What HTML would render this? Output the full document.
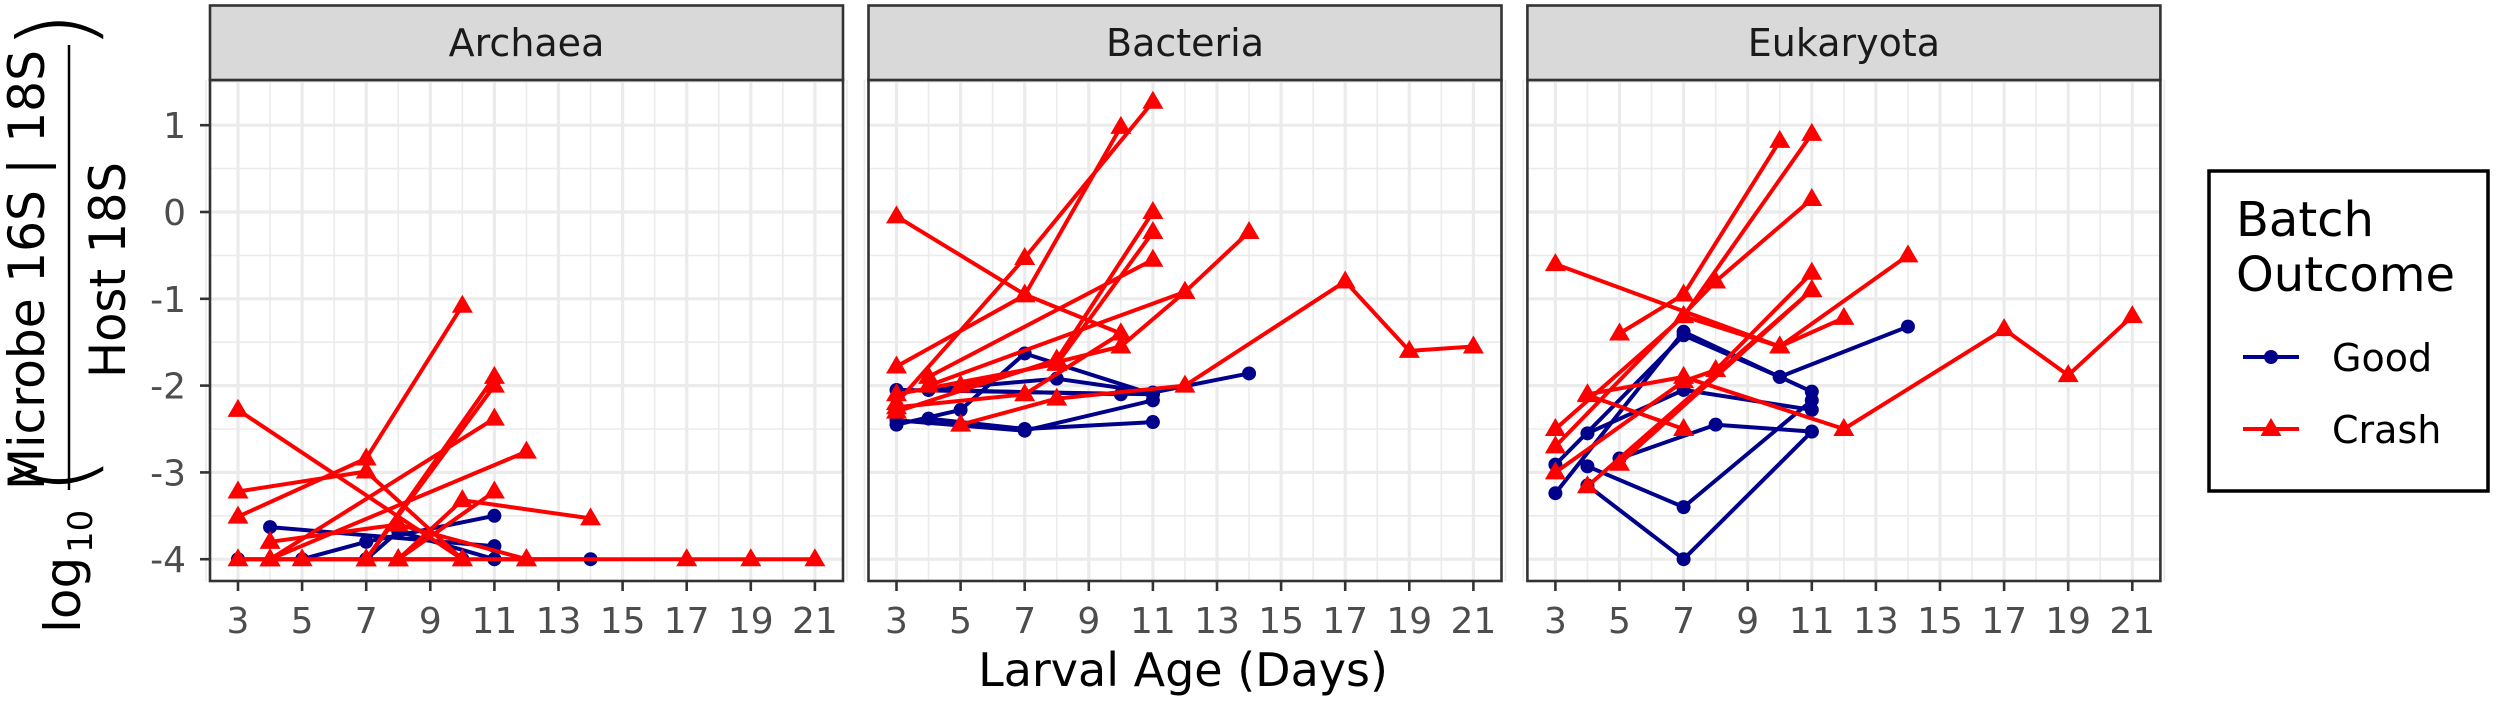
<!DOCTYPE html>
<html><head><meta charset="utf-8"><style>
html,body{margin:0;padding:0;background:#fff;}
svg{display:block;font-family:"DejaVu Sans","Liberation Sans",sans-serif;}
</style></head><body>
<svg id="chart" width="2500" height="705" viewBox="0 0 2500 705" xmlns="http://www.w3.org/2000/svg">
<g id="root"></g>
</svg>
<script>
const panelNames = ["Archaea", "Bacteria", "Eukaryota"];
const xTicks = [3,5,7,9,11,13,15,17,19,21];
const yTicks = [1,0,-1,-2,-3,-4];
const archaeaGood = [
 {d:[4,11], v:[-3.63,-3.85]},
 {d:[5,7,11], v:[-4,-3.8,-3.5]},
 {d:[3,7,8,11], v:[-4,-4,-3.68,-4]},
 {d:[7,10], v:[-4,-4]},
 {d:[11,14], v:[-4,-4]}
];
const archaeaCrash = [
 {d:[3,10], v:[-2.28,-4]},
 {d:[3,7,10], v:[-3.22,-2.99,-4]},
 {d:[3,7,10], v:[-3.51,-2.84,-1.08]},
 {d:[4,8,12], v:[-3.8,-3.6,-4]},
 {d:[4,11], v:[-4,-2.38]},
 {d:[7,11], v:[-4,-1.9]},
 {d:[7,11], v:[-4,-2.0]},
 {d:[8,10,14], v:[-4,-3.32,-3.53]},
 {d:[8,11], v:[-4,-3.22]},
 {d:[4,12], v:[-4,-2.76]},
 {d:[3,4,5,7,8,12,17,19,21], v:[-4,-4,-4,-4,-4,-4,-4,-4,-4]}
];
const bacteriaGood = [
 {d:[3,11], v:[-2.05,-2.1]},
 {d:[3,5,7,11], v:[-2.45,-2.28,-1.63,-2.1]},
 {d:[4,7,11], v:[-2.38,-2.5,-2.42]},
 {d:[3,7,11], v:[-2.4,-2.52,-2.17]},
 {d:[4,8,11,14], v:[-2.05,-1.92,-2.08,-1.86]},
 {d:[4,10], v:[-2.05,-2.1]}
];
const bacteriaCrash = [
 {d:[3,7,10], v:[-0.05,-0.95,-1.4]},
 {d:[3,7,10], v:[-1.78,-0.96,0.98]},
 {d:[3,7,11], v:[-2.2,-0.53,1.27]},
 {d:[3,8,11], v:[-2.3,-1.7,0.0]},
 {d:[3,8,11], v:[-2.1,-1.75,-0.23]},
 {d:[4,11], v:[-1.9,-0.55]},
 {d:[4,12,14], v:[-2.0,-0.92,-0.23]},
 {d:[5,10,12], v:[-2.0,-1.55,-0.92]},
 {d:[5,8,12,17,19,21], v:[-2.45,-2.15,-2.0,-0.8,-1.6,-1.55]},
 {d:[3,7,10], v:[-2.25,-2.1,-1.4]}
];
const eukaryotaGood = [
 {d:[3,7,10,14], v:[-3.24,-1.38,-1.9,-1.32]},
 {d:[3,7,10,11], v:[-2.91,-1.42,-1.9,-2.07]},
 {d:[4,7,11], v:[-2.55,-2.05,-2.28]},
 {d:[4,7,11], v:[-2.93,-3.4,-2.17]},
 {d:[4,7,11], v:[-3.15,-4.0,-2.53]},
 {d:[5,8,11], v:[-2.84,-2.45,-2.53]}
];
const eukaryotaCrash = [
 {d:[3,10], v:[-0.6,-1.55]},
 {d:[5,7,10], v:[-1.4,-0.95,0.82]},
 {d:[3,7,11], v:[-2.5,-1.2,0.9]},
 {d:[3,8,11], v:[-2.7,-0.8,0.15]},
 {d:[4,7], v:[-2.11,-2.5]},
 {d:[3,7,8,11], v:[-3.0,-1.95,-1.82,-0.7]},
 {d:[4,11], v:[-3.16,-0.9]},
 {d:[5,11], v:[-2.9,-0.9]},
 {d:[7,10,12], v:[-1.2,-1.55,-1.22]},
 {d:[4,7,12,17,19,21], v:[-2.1,-1.9,-2.5,-1.35,-1.88,-1.2]},
 {d:[10,14], v:[-1.55,-0.5]}
];
const goodSets = [archaeaGood, bacteriaGood, eukaryotaGood];
const crashSets = [archaeaCrash, bacteriaCrash, eukaryotaCrash];

const NS = "http://www.w3.org/2000/svg";
const root = document.getElementById("root");
function mk(tag, attrs, parent){
  const e = document.createElementNS(NS, tag);
  for (const k in attrs) e.setAttribute(k, attrs[k]);
  (parent||root).appendChild(e);
  return e;
}
const panelLefts = [210, 868.5, 1527.4];
const PW = 633, PT = 80, PB = 581;
const RED = "#FF0000", BLUE = "#00008B";
function yS(v){ return 212 - 86.8 * v; }

panelLefts.forEach((L, pi) => {
  const xS = d => L + 28 + (d - 3) * 32.05;
  const g = mk("g", {});
  
  
  mk("rect", {x:L, y:PT, width:PW, height:PB-PT, fill:"#fff"}, g);
  // minor grid
  for (let d = 2; d <= 22; d += 2) {
    const l = mk("line", {x1:xS(d), x2:xS(d), y1:PT, y2:PB, stroke:"#EBEBEB", "stroke-width":1.6}, g);
  }
  for (let v = 1.5; v >= -4.5; v -= 1) {
    const y = yS(v); if (y < PT || y > PB) continue;
    mk("line", {x1:L, x2:L+PW, y1:y, y2:y, stroke:"#EBEBEB", "stroke-width":1.6}, g);
  }
  xTicks.forEach(d => {
    const l = mk("line", {x1:xS(d), x2:xS(d), y1:PT, y2:PB, stroke:"#EBEBEB", "stroke-width":3.2}, g);
    
    
  });
  yTicks.forEach(v => {
    const l = mk("line", {x1:L, x2:L+PW, y1:yS(v), y2:yS(v), stroke:"#EBEBEB", "stroke-width":3.2}, g);
    
    
  });
  // series
  const drawSeries = (sets, color, shape) => {
    sets.forEach(s => {
      const pts = s.d.map((d,i) => xS(d).toFixed(1) + "," + yS(s.v[i]).toFixed(1)).join(" ");
      const pl = mk("polyline", {points:pts, fill:"none", stroke:color, "stroke-width":4, "stroke-linejoin":"round"}, g);
      
      
      s.d.forEach((d,i) => {
        const x = xS(d), y = yS(s.v[i]);
        let m;
        if (shape === 'c') m = mk("circle", {cx:x, cy:y, r:7, fill:color}, g);
        else m = mk("polygon", {points:`${x},${y-11} ${x-10.5},${y+7} ${x+10.5},${y+7}`, fill:color}, g);
        
        
      });
    });
  };
  drawSeries(goodSets[pi], BLUE, 'c');
  drawSeries(crashSets[pi], RED, 't');
  mk("rect", {x:L, y:PT, width:PW, height:PB-PT, fill:"none", stroke:"#333", "stroke-width":2.6}, g);
  // strip
  const st = mk("rect", {x:L, y:5.5, width:PW, height:PT-5.5, fill:"#D9D9D9", stroke:"#333", "stroke-width":2.6}, g);
  
  
  const stt = mk("text", {x:L+PW/2, y:56, "font-size":38, fill:"#1A1A1A", "text-anchor":"middle"}, g);
  stt.textContent = panelNames[pi];
  
  
  // x ticks
  xTicks.forEach(d => {
    mk("line", {x1:xS(d), x2:xS(d), y1:PB, y2:PB+10, stroke:"#333", "stroke-width":2.6}, g);
    const t = mk("text", {x:xS(d), y:633, "font-size":36, fill:"#4D4D4D", "text-anchor":"middle"}, g);
    t.textContent = d;
    
    
  });
});
// y ticks
yTicks.forEach(v => {
  mk("line", {x1:200, x2:210, y1:yS(v), y2:yS(v), stroke:"#333", "stroke-width":2.6});
  const t = mk("text", {x:186, y:yS(v)+13, "font-size":36, fill:"#4D4D4D", "text-anchor":"end"});
  t.textContent = v;
  
  
});
</script>
<g></g>
<script>
(function(){
const NS = "http://www.w3.org/2000/svg";
const svg = document.getElementById("chart");
function mk(tag, attrs, parent){
  const e = document.createElementNS(NS, tag);
  for (const k in attrs) e.setAttribute(k, attrs[k]);
  (parent||svg).appendChild(e);
  return e;
}
// x title
const xt = mk("text", {x:1183, y:686, "font-size":46, fill:"#000", "text-anchor":"middle"});
xt.textContent = "Larval Age (Days)";


// y title (rotated)
const yg = mk("g", {transform:"translate(0,705) rotate(-90)"});


const num = mk("text", {x:435, y:44, "font-size":50, "text-anchor":"middle", textLength:440, lengthAdjust:"spacingAndGlyphs"}, yg);
num.textContent = "Microbe 16S | 18S";
mk("line", {x1:215, x2:660, y1:69, y2:69, stroke:"#000", "stroke-width":2.5}, yg);
const den = mk("text", {x:435, y:125, "font-size":50, "text-anchor":"middle", textLength:216, lengthAdjust:"spacingAndGlyphs"}, yg);
den.textContent = "Host 18S";
const lg = mk("text", {x:72, y:80, "font-size":50}, yg);
lg.textContent = "log";
const sub = mk("text", {x:152, y:92, "font-size":34}, yg);
sub.textContent = "10";
const lp = mk("text", {x:210, y:90, "font-size":100, transform:"", "font-weight":"100"}, yg);
lp.textContent = "(";
const rp = mk("text", {x:655, y:90, "font-size":100, "font-weight":"100"}, yg);
rp.textContent = ")";
// legend
const lgG = mk("g", {});


mk("rect", {x:2209, y:171, width:279, height:320, fill:"#fff", stroke:"#000", "stroke-width":3.5}, lgG);
const t1 = mk("text", {x:2236, y:236, "font-size":48}, lgG); t1.textContent = "Batch";
const t2 = mk("text", {x:2236, y:291, "font-size":48}, lgG); t2.textContent = "Outcome";
 
 
const e1 = mk("g", {}, lgG);


mk("line", {x1:2243, x2:2299, y1:357, y2:357, stroke:"#00008B", "stroke-width":4}, e1);
mk("circle", {cx:2271, cy:357, r:7, fill:"#00008B"}, e1);
const g1 = mk("text", {x:2332, y:371, "font-size":38}, e1); g1.textContent = "Good";
const e2 = mk("g", {}, lgG);


mk("line", {x1:2243, x2:2299, y1:429, y2:429, stroke:"#FF0000", "stroke-width":4}, e2);
mk("polygon", {points:"2271,418 2260.5,436 2281.5,436", fill:"#FF0000"}, e2);
const g2 = mk("text", {x:2332, y:443, "font-size":38}, e2); g2.textContent = "Crash";
})();
</script>
</body></html>
